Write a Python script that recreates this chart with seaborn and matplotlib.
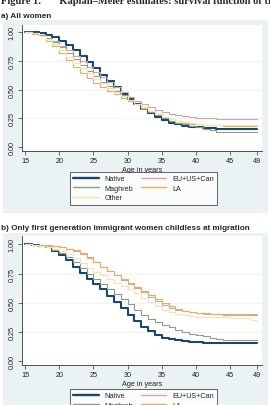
import matplotlib
matplotlib.use("Agg")
import matplotlib.pyplot as plt
from matplotlib.patches import Rectangle
from matplotlib.lines import Line2D
import seaborn as sns
import pandas as pd
import numpy as np

# ages (yearly steps of the Kaplan-Meier curves)
ages = list(range(15, 50))

# a) All women
native_a = [1.00, 0.997, 0.99, 0.975, 0.955, 0.925, 0.885, 0.84, 0.79, 0.74,
            0.685, 0.63, 0.575, 0.52, 0.465, 0.415, 0.37, 0.33, 0.295, 0.262,
            0.235, 0.213, 0.197, 0.186, 0.177, 0.17, 0.165, 0.161, 0.158, 0.156,
            0.155, 0.155, 0.155, 0.155, 0.155]
eu_a = [1.00, 0.99, 0.975, 0.95, 0.92, 0.88, 0.84, 0.79, 0.745, 0.70,
        0.655, 0.61, 0.565, 0.52, 0.475, 0.435, 0.40, 0.37, 0.345, 0.322,
        0.303, 0.288, 0.276, 0.266, 0.259, 0.254, 0.25, 0.248, 0.246, 0.245,
        0.244, 0.244, 0.244, 0.244, 0.244]
maghreb_a = [1.00, 0.99, 0.975, 0.95, 0.915, 0.87, 0.82, 0.77, 0.715, 0.665,
             0.615, 0.57, 0.53, 0.49, 0.45, 0.41, 0.37, 0.335, 0.303, 0.275,
             0.25, 0.23, 0.212, 0.198, 0.186, 0.176, 0.16, 0.145, 0.132, 0.13,
             0.13, 0.13, 0.13, 0.13, 0.13]
la_a = [1.00, 0.985, 0.965, 0.925, 0.875, 0.815, 0.755, 0.70, 0.645, 0.60,
        0.56, 0.523, 0.49, 0.46, 0.43, 0.40, 0.37, 0.34, 0.31, 0.283,
        0.26, 0.24, 0.225, 0.213, 0.204, 0.197, 0.193, 0.19, 0.188, 0.187,
        0.187, 0.187, 0.187, 0.187, 0.187]
other_a = [1.00, 0.99, 0.97, 0.94, 0.895, 0.84, 0.785, 0.735, 0.685, 0.64,
           0.595, 0.555, 0.515, 0.48, 0.445, 0.41, 0.378, 0.345, 0.315, 0.288,
           0.263, 0.243, 0.228, 0.216, 0.207, 0.20, 0.195, 0.192, 0.19, 0.19,
           0.19, 0.19, 0.19, 0.19, 0.17]

# b) Only first generation immigrant women childless at migration
native_b = [1.00, 0.997, 0.99, 0.975, 0.945, 0.91, 0.865, 0.81, 0.755, 0.705,
            0.66, 0.615, 0.56, 0.505, 0.455, 0.40, 0.345, 0.295, 0.255, 0.225,
            0.203, 0.188, 0.178, 0.17, 0.165, 0.161, 0.158, 0.156, 0.155, 0.154,
            0.154, 0.154, 0.154, 0.154, 0.154]
eu_b = [1.00, 0.998, 0.996, 0.992, 0.985, 0.975, 0.962, 0.945, 0.918, 0.885,
        0.848, 0.81, 0.772, 0.735, 0.695, 0.66, 0.625, 0.59, 0.553, 0.515,
        0.485, 0.46, 0.44, 0.428, 0.42, 0.413, 0.408, 0.405, 0.402, 0.40,
        0.40, 0.40, 0.40, 0.40, 0.40]
maghreb_b = [1.00, 0.997, 0.99, 0.975, 0.955, 0.925, 0.89, 0.85, 0.80, 0.75,
             0.70, 0.66, 0.62, 0.575, 0.53, 0.49, 0.44, 0.395, 0.365, 0.335,
             0.31, 0.29, 0.27, 0.25, 0.235, 0.224, 0.214, 0.20, 0.19, 0.186,
             0.186, 0.186, 0.186, 0.186, 0.186]
la_b = [1.00, 0.998, 0.995, 0.99, 0.983, 0.975, 0.965, 0.948, 0.925, 0.89,
        0.85, 0.81, 0.775, 0.74, 0.705, 0.67, 0.635, 0.60, 0.565, 0.53,
        0.50, 0.47, 0.445, 0.43, 0.42, 0.415, 0.41, 0.407, 0.405, 0.403,
        0.403, 0.403, 0.403, 0.403, 0.403]
other_b = [1.00, 0.997, 0.99, 0.98, 0.965, 0.945, 0.92, 0.885, 0.845, 0.80,
           0.765, 0.735, 0.705, 0.67, 0.64, 0.615, 0.585, 0.545, 0.51, 0.47,
           0.44, 0.42, 0.405, 0.392, 0.385, 0.38, 0.378, 0.377, 0.376, 0.375,
           0.374, 0.373, 0.372, 0.352, 0.35]

groups = ['Native', 'EU+US+Can', 'Maghreb', 'LA', 'Other']
colors = {'Native': '#1a476f', 'EU+US+Can': '#d3a2b0', 'Maghreb': '#8f9c88',
          'LA': '#e9ad5c', 'Other': '#efe4b4'}
widths = {'Native': 1.5, 'EU+US+Can': 0.8, 'Maghreb': 0.8, 'LA': 0.8, 'Other': 0.8}

xticks = [15, 20, 25, 30, 35, 40, 45, 49]
yticks = [0, 0.25, 0.5, 0.75, 1.0]
bg = '#eaf2f3'

sns.set_theme(style="white")
plt.rcParams['font.family'] = ['Liberation Sans', 'DejaVu Sans']

W, H = 270, 406
fig = plt.figure(figsize=(W / 100, H / 100), dpi=100)
fig.patch.set_facecolor('white')


def fx(px):
    return px / W


def fy(py):
    return 1 - py / H


# figure title (cut at the top in the reference)
fig.text(fx(1), fy(4), 'Figure 1.       Kaplan\u2013Meier estimates: survival function of transition to first birth',
         family=['Liberation Serif', 'DejaVu Serif'], fontweight='bold', fontsize=7.6,
         va='baseline', ha='left')


def panel(title, title_y, bg_top, bg_bot, ax_top, ax_bot, ylo, yhi, series, leg_top):
    fig.patches.append(Rectangle((fx(3), fy(bg_bot)), fx(265), (bg_bot - bg_top) / H,
                                 transform=fig.transFigure, facecolor=bg, edgecolor='none', zorder=-5))
    fig.text(fx(1), fy(title_y), title, fontweight='bold', fontsize=5.85, va='baseline', ha='left')
    ax = fig.add_axes([fx(22), fy(ax_bot), fx(262 - 22), (ax_bot - ax_top) / H])
    ax.set_zorder(2)
    ax.set_facecolor('white')
    df = pd.DataFrame({'age': ages * len(groups),
                       'surv': np.concatenate([series[g] for g in groups]),
                       'group': np.repeat(groups, len(ages))})
    for g in groups:
        sns.lineplot(data=df[df['group'] == g], x='age', y='surv', color=colors[g],
                     linewidth=widths[g], drawstyle='steps-post', errorbar=None, ax=ax)
    ax.set_xlim(14.56, 49.66)
    ax.set_ylim(ylo, yhi)
    ax.set_xticks(xticks)
    ax.set_yticks(yticks)
    ax.set_yticklabels(['0.00', '0.25', '0.50', '0.75', '1.00'], rotation=90, va='center')
    ax.tick_params(axis='both', labelsize=5.2, length=3, width=0.5, pad=1.5, colors='#333333',
                   direction='out', bottom=True, left=True)
    for lab in ax.get_xticklabels() + ax.get_yticklabels():
        lab.set_color('#222222')
    for y in [0.25, 0.5, 0.75]:
        ax.axhline(y, color=bg, linewidth=0.6, zorder=0)
    for s in ['top', 'right']:
        ax.spines[s].set_visible(False)
    for s in ['left', 'bottom']:
        ax.spines[s].set_linewidth(0.6)
        ax.spines[s].set_color('#333333')
    ax.set_xlabel('Age in years', fontsize=5.2, labelpad=1, color='#222222')
    ax.set_ylabel('')
    order = ['Native', 'Maghreb', 'Other', 'EU+US+Can', 'LA']
    handles = [Line2D([], [], color=colors[g], linewidth=widths[g] + 0.2) for g in order]
    leg = ax.legend(handles, order, ncol=2, loc='upper left',
                    bbox_to_anchor=(fx(70), fy(leg_top)), bbox_transform=fig.transFigure,
                    fontsize=5.2, frameon=True, fancybox=False, handlelength=3.5,
                    handletextpad=0.8, columnspacing=1.1, labelspacing=0.35,
                    borderpad=0.45, borderaxespad=0)
    leg.get_frame().set_edgecolor('#222222')
    leg.get_frame().set_linewidth(0.6)
    return ax


panel('a) All women', 17.5, 21, 214, 26, 152, -0.035, 1.062,
      {'Native': native_a, 'EU+US+Can': eu_a, 'Maghreb': maghreb_a, 'LA': la_a, 'Other': other_a},
      173)
panel('b) Only first generation immigrant women childless at migration', 230, 234, 410, 237, 366,
      -0.032, 1.072,
      {'Native': native_b, 'EU+US+Can': eu_b, 'Maghreb': maghreb_b, 'LA': la_b, 'Other': other_b},
      390)

fig.savefig('out.png', dpi=100)
